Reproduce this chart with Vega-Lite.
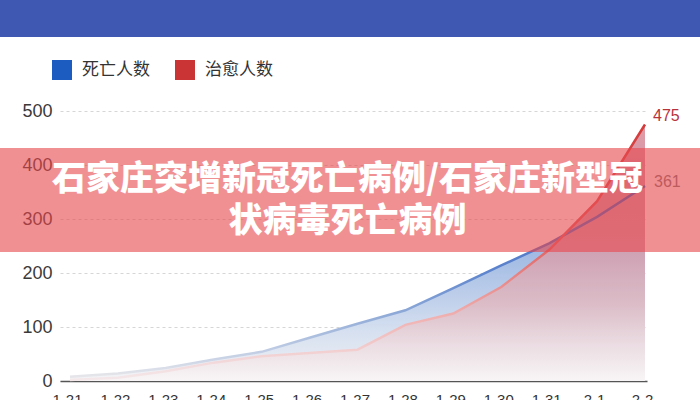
{
  "$schema": "https://vega.github.io/schema/vega-lite/v6.json",
  "width": 587,
  "height": 270,
  "autosize": {"type": "none"},
  "padding": {"left": 60, "top": 111, "right": 53, "bottom": 19},
  "background": "white",
  "config": {"view": {"stroke": null}, "font": "Liberation Sans"},
  "data": {
    "values": [
      {"date": "2021-01-21", "series": "死亡人数", "value": 8},
      {"date": "2021-01-22", "series": "死亡人数", "value": 14},
      {"date": "2021-01-23", "series": "死亡人数", "value": 24},
      {"date": "2021-01-24", "series": "死亡人数", "value": 40},
      {"date": "2021-01-25", "series": "死亡人数", "value": 54},
      {"date": "2021-01-26", "series": "死亡人数", "value": 80},
      {"date": "2021-01-27", "series": "死亡人数", "value": 106},
      {"date": "2021-01-28", "series": "死亡人数", "value": 131},
      {"date": "2021-01-29", "series": "死亡人数", "value": 172},
      {"date": "2021-01-30", "series": "死亡人数", "value": 214},
      {"date": "2021-01-31", "series": "死亡人数", "value": 255},
      {"date": "2021-02-01", "series": "死亡人数", "value": 304},
      {"date": "2021-02-02", "series": "死亡人数", "value": 361},
      {"date": "2021-01-21", "series": "治愈人数", "value": 2},
      {"date": "2021-01-22", "series": "治愈人数", "value": 6},
      {"date": "2021-01-23", "series": "治愈人数", "value": 18},
      {"date": "2021-01-24", "series": "治愈人数", "value": 34},
      {"date": "2021-01-25", "series": "治愈人数", "value": 46},
      {"date": "2021-01-26", "series": "治愈人数", "value": 52},
      {"date": "2021-01-27", "series": "治愈人数", "value": 58},
      {"date": "2021-01-28", "series": "治愈人数", "value": 104},
      {"date": "2021-01-29", "series": "治愈人数", "value": 125},
      {"date": "2021-01-30", "series": "治愈人数", "value": 174},
      {"date": "2021-01-31", "series": "治愈人数", "value": 243},
      {"date": "2021-02-01", "series": "治愈人数", "value": 333},
      {"date": "2021-02-02", "series": "治愈人数", "value": 475}
    ]
  },
  "layer": [
    {
      "data": {"values": [{"part": "header"}]},
      "mark": {"type": "rect", "color": "#3f59b3"},
      "encoding": {
        "x": {"datum": 1610236800000, "type": "temporal", "scale": {"type": "utc", "nice": false, "domain": [1611169200000, 1612227600000]}, "axis": {"title": null, "format": "%-m-%-d", "formatType": "utc", "labelExpr": "utcFormat(datum.value, '%-m-%-d')", "tickCount": {"interval": "day", "step": 1}, "ticks": false, "grid": false, "domainColor": "#555555", "domainWidth": 1.5, "labelFontSize": 15, "labelColor": "#333333", "labelPadding": 11, "labelOffset": -3, "labelFlush": false, "labelOverlap": false}},
        "x2": {"datum": 1613260800000},
        "y": {"datum": 637, "type": "quantitative", "scale": {"domain": [0, 500], "nice": false}, "axis": {"title": null, "values": [0, 100, 200, 300, 400, 500], "domain": false, "ticks": false, "grid": true, "gridDash": [3, 3], "gridColor": "#d6d6d6", "labelFontSize": 18, "labelColor": "#3a3a3a", "labelPadding": 8}},
        "y2": {"datum": 760}
      }
    },
    {
      "transform": [{"filter": {"field": "series", "equal": "死亡人数"}}],
      "mark": {
        "type": "area",
        "line": false,
        "color": {
          "gradient": "linear", "x1": 0, "y1": 0, "x2": 0, "y2": 1,
          "stops": [
            {"offset": 0, "color": "#7d9edb"},
            {"offset": 0.4, "color": "#a8bfe5"},
            {"offset": 0.75, "color": "#d6e0f0"},
            {"offset": 1, "color": "#f4f4f6"}
          ]
        }
      },
      "encoding": {
        "x": {"field": "date", "type": "temporal", "axis": {"title": null, "format": "%-m-%-d", "formatType": "utc", "labelExpr": "utcFormat(datum.value, '%-m-%-d')", "tickCount": {"interval": "day", "step": 1}, "ticks": false, "grid": false, "domainColor": "#555555", "domainWidth": 1.5, "labelFontSize": 15, "labelColor": "#333333", "labelPadding": 11, "labelOffset": -3, "labelFlush": false, "labelOverlap": false}},
        "y": {"field": "value", "type": "quantitative"}
      }
    },
    {
      "transform": [{"filter": {"field": "series", "equal": "治愈人数"}}],
      "mark": {
        "type": "area",
        "line": false,
        "color": {
          "gradient": "linear", "x1": 0, "y1": 0, "x2": 0, "y2": 1,
          "stops": [
            {"offset": 0, "color": "#e39aa4"},
            {"offset": 0.15, "color": "#d49aab"},
            {"offset": 0.5, "color": "#cfa3b4"},
            {"offset": 0.7, "color": "#dbbcc7"},
            {"offset": 0.85, "color": "#eadbe1"},
            {"offset": 1, "color": "#f8f5f6"}
          ]
        }
      },
      "encoding": {
        "x": {"field": "date", "type": "temporal", "axis": {"title": null, "format": "%-m-%-d", "formatType": "utc", "labelExpr": "utcFormat(datum.value, '%-m-%-d')", "tickCount": {"interval": "day", "step": 1}, "ticks": false, "grid": false, "domainColor": "#555555", "domainWidth": 1.5, "labelFontSize": 15, "labelColor": "#333333", "labelPadding": 11, "labelOffset": -3, "labelFlush": false, "labelOverlap": false}},
        "y": {"field": "value", "type": "quantitative"}
      }
    },
    {
      "transform": [{"filter": {"field": "series", "equal": "死亡人数"}}],
      "mark": {
        "type": "line",
        "strokeWidth": 2.5,
        "color": {
          "gradient": "linear", "x1": 0, "y1": 0, "x2": 0, "y2": 1,
          "stops": [
            {"offset": 0, "color": "#3564c2"},
            {"offset": 0.45, "color": "#5d84cd"},
            {"offset": 0.7, "color": "#96afd9"},
            {"offset": 0.9, "color": "#c9d3e6"},
            {"offset": 1, "color": "#e6e6ea"}
          ]
        }
      },
      "encoding": {
        "x": {"field": "date", "type": "temporal", "axis": {"title": null, "format": "%-m-%-d", "formatType": "utc", "labelExpr": "utcFormat(datum.value, '%-m-%-d')", "tickCount": {"interval": "day", "step": 1}, "ticks": false, "grid": false, "domainColor": "#555555", "domainWidth": 1.5, "labelFontSize": 15, "labelColor": "#333333", "labelPadding": 11, "labelOffset": -3, "labelFlush": false, "labelOverlap": false}},
        "y": {"field": "value", "type": "quantitative"}
      }
    },
    {
      "transform": [{"filter": {"field": "series", "equal": "治愈人数"}}],
      "mark": {
        "type": "line",
        "strokeWidth": 2.5,
        "color": {
          "gradient": "linear", "x1": 0, "y1": 0, "x2": 0, "y2": 1,
          "stops": [
            {"offset": 0, "color": "#d43a3a"},
            {"offset": 0.5, "color": "#e26a6a"},
            {"offset": 0.75, "color": "#f0b0b0"},
            {"offset": 1, "color": "#f4e8ea"}
          ]
        }
      },
      "encoding": {
        "x": {"field": "date", "type": "temporal", "axis": {"title": null, "format": "%-m-%-d", "formatType": "utc", "labelExpr": "utcFormat(datum.value, '%-m-%-d')", "tickCount": {"interval": "day", "step": 1}, "ticks": false, "grid": false, "domainColor": "#555555", "domainWidth": 1.5, "labelFontSize": 15, "labelColor": "#333333", "labelPadding": 11, "labelOffset": -3, "labelFlush": false, "labelOverlap": false}},
        "y": {"field": "value", "type": "quantitative"}
      }
    },
    {
      "mark": {"type": "square", "size": 0},
      "encoding": {
        "x": {"field": "date", "type": "temporal", "axis": {"title": null, "format": "%-m-%-d", "formatType": "utc", "labelExpr": "utcFormat(datum.value, '%-m-%-d')", "tickCount": {"interval": "day", "step": 1}, "ticks": false, "grid": false, "domainColor": "#555555", "domainWidth": 1.5, "labelFontSize": 15, "labelColor": "#333333", "labelPadding": 11, "labelOffset": -3, "labelFlush": false, "labelOverlap": false}},
        "y": {"field": "value", "type": "quantitative"},
        "color": {
          "field": "series",
          "type": "nominal",
          "scale": {"domain": ["死亡人数", "治愈人数"], "range": ["#1c5bbf", "#cb3434"]},
          "legend": {
            "title": null,
            "orient": "none",
            "legendX": -8,
            "legendY": -51,
            "direction": "horizontal",
            "symbolType": "square",
            "symbolSize": 400,
            "symbolStrokeWidth": 0,
            "symbolOpacity": 1,
            "labelFont": "Noto Sans CJK SC",
            "labelFontSize": 17,
            "labelColor": "#333333",
            "labelOffset": 10,
            "columnPadding": 25,
            "padding": 0
          }
        }
      }
    },
    {
      "transform": [{"filter": "datum.series === '治愈人数' && time(datum.date) === utc(2021, 1, 2)"}],
      "mark": {"type": "text", "align": "left", "baseline": "middle", "dx": 8, "dy": -9, "fontSize": 16, "color": "#b8323c"},
      "encoding": {
        "x": {"field": "date", "type": "temporal", "axis": {"title": null, "format": "%-m-%-d", "formatType": "utc", "labelExpr": "utcFormat(datum.value, '%-m-%-d')", "tickCount": {"interval": "day", "step": 1}, "ticks": false, "grid": false, "domainColor": "#555555", "domainWidth": 1.5, "labelFontSize": 15, "labelColor": "#333333", "labelPadding": 11, "labelOffset": -3, "labelFlush": false, "labelOverlap": false}},
        "y": {"field": "value", "type": "quantitative"},
        "text": {"field": "value", "type": "quantitative"}
      }
    },
    {
      "transform": [{"filter": "datum.series === '死亡人数' && time(datum.date) === utc(2021, 1, 2)"}],
      "mark": {"type": "text", "align": "left", "baseline": "middle", "dx": 9, "dy": -4, "fontSize": 16, "color": "#7a7a7a"},
      "encoding": {
        "x": {"field": "date", "type": "temporal", "axis": {"title": null, "format": "%-m-%-d", "formatType": "utc", "labelExpr": "utcFormat(datum.value, '%-m-%-d')", "tickCount": {"interval": "day", "step": 1}, "ticks": false, "grid": false, "domainColor": "#555555", "domainWidth": 1.5, "labelFontSize": 15, "labelColor": "#333333", "labelPadding": 11, "labelOffset": -3, "labelFlush": false, "labelOverlap": false}},
        "y": {"field": "value", "type": "quantitative"},
        "text": {"field": "value", "type": "quantitative"}
      }
    },
    {
      "data": {"values": [{"part": "banner"}]},
      "mark": {"type": "rect", "color": "#e8464b", "opacity": 0.6},
      "encoding": {
        "x": {"datum": 1610236800000, "type": "temporal", "axis": {"title": null, "format": "%-m-%-d", "formatType": "utc", "labelExpr": "utcFormat(datum.value, '%-m-%-d')", "tickCount": {"interval": "day", "step": 1}, "ticks": false, "grid": false, "domainColor": "#555555", "domainWidth": 1.5, "labelFontSize": 15, "labelColor": "#333333", "labelPadding": 11, "labelOffset": -3, "labelFlush": false, "labelOverlap": false}},
        "x2": {"datum": 1613260800000},
        "y": {"datum": 238.9, "type": "quantitative"},
        "y2": {"datum": 431.5}
      }
    },
    {
      "data": {"values": [{"part": "line1"}]},
      "mark": {"type": "text", "align": "center", "baseline": "middle", "font": "Noto Sans CJK SC", "fontWeight": 900, "fontSize": 34, "color": "white"},
      "encoding": {
        "x": {"datum": 1611687600000, "type": "temporal", "axis": {"title": null, "format": "%-m-%-d", "formatType": "utc", "labelExpr": "utcFormat(datum.value, '%-m-%-d')", "tickCount": {"interval": "day", "step": 1}, "ticks": false, "grid": false, "domainColor": "#555555", "domainWidth": 1.5, "labelFontSize": 15, "labelColor": "#333333", "labelPadding": 11, "labelOffset": -3, "labelFlush": false, "labelOverlap": false}},
        "y": {"datum": 372, "type": "quantitative"},
        "text": {"value": "石家庄突增新冠死亡病例/石家庄新型冠"}
      }
    },
    {
      "data": {"values": [{"part": "line2"}]},
      "mark": {"type": "text", "align": "center", "baseline": "middle", "font": "Noto Sans CJK SC", "fontWeight": 900, "fontSize": 34, "color": "white"},
      "encoding": {
        "x": {"datum": 1611687600000, "type": "temporal", "axis": {"title": null, "format": "%-m-%-d", "formatType": "utc", "labelExpr": "utcFormat(datum.value, '%-m-%-d')", "tickCount": {"interval": "day", "step": 1}, "ticks": false, "grid": false, "domainColor": "#555555", "domainWidth": 1.5, "labelFontSize": 15, "labelColor": "#333333", "labelPadding": 11, "labelOffset": -3, "labelFlush": false, "labelOverlap": false}},
        "y": {"datum": 294, "type": "quantitative"},
        "text": {"value": "状病毒死亡病例"}
      }
    }
  ]
}
